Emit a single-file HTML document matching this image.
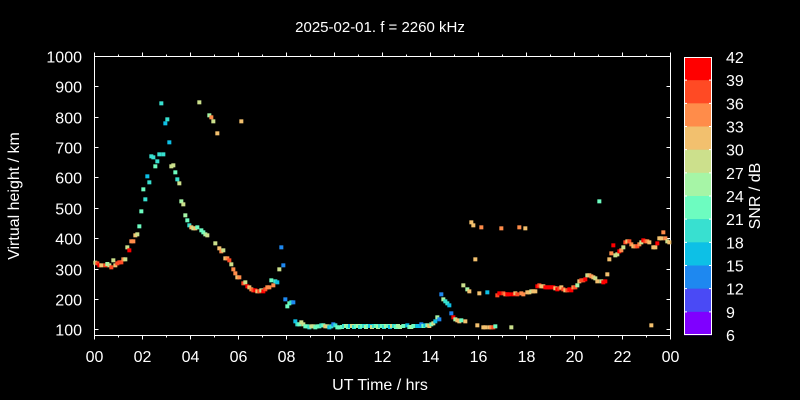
<!DOCTYPE html>
<html><head><meta charset="utf-8"><style>
html,body{margin:0;padding:0;background:#000;}
svg{display:block;}
text{font-family:"Liberation Sans",sans-serif;fill:#fff;}
</style></head><body>
<svg id="s" width="800" height="400" xmlns="http://www.w3.org/2000/svg">
<rect width="800" height="400" fill="#000"/>
<text x="380" y="32" font-size="15" text-anchor="middle">2025-02-01. f = 2260 kHz</text>
<text x="380" y="390" font-size="16" text-anchor="middle">UT Time / hrs</text>
<text transform="translate(19,196) rotate(-90)" font-size="16" text-anchor="middle">Virtual height / km</text>
<text transform="translate(760,196) rotate(-90)" font-size="16" text-anchor="middle">SNR / dB</text>
<g id="ax" stroke="#fff" stroke-width="1" fill="none"></g>
<g id="lab" font-size="16"></g>
<g id="pts"></g>
<g id="cb"></g>
</svg>
<script>
const NS="http://www.w3.org/2000/svg";
function el(p,t,a,txt){const e=document.createElementNS(NS,t);for(const k in a)e.setAttribute(k,a[k]);if(txt!==undefined)e.textContent=txt;document.getElementById(p).appendChild(e);return e;}
const L=94.5,R=670.5,T=56.5,B=335.5;
el("ax","path",{d:`M${L},${T}H${R}V${B}H${L}Z`});
let d="";
for(let h=0;h<=24;h++){const x=L+h*24;const len=h%2?2:4;d+=`M${x},${B}v${len}M${x},${T}v${-len}`;
 if(h%2==0){el("lab","text",{x:x,y:362,"text-anchor":"middle"},String(h%24).padStart(2,"0"));}}
for(let v=100;v<=1000;v+=100){const y=Math.round(56+(1000-v)*0.3037)+0.5;d+=`M${L},${y}h4M${R},${y}h-4`;
 el("lab","text",{x:82,y:y+6,"text-anchor":"end"},String(v));}
el("ax","path",{d:d});
// colorbar
const cols=["#ff0000","#ff4a24","#ff8c4a","#f2c06e","#cce08c","#a6f5a6","#6dfcc0","#38e0d0","#0dc0e6","#1e88f0","#4a4af5","#7f00ff"];
const cT=57,cB=335,ch=(cB-cT)/12;
cols.forEach((c,i)=>el("cb","rect",{x:684,y:cT+i*ch,width:28,height:ch+0.3,fill:c}));
el("cb","rect",{x:684.5,y:cT+0.5,width:27,height:cB-cT-1,fill:"none",stroke:"#fff"});
let cd="";
for(let i=0;i<=12;i++){const y=cT+i*ch;if(i>0&&i<12)cd+=`M684,${y}h3M712,${y}h-3`;
 el("cb","text",{x:726,y:y+6,"font-size":"16"},String(42-3*i));}
el("cb","path",{d:cd,stroke:"#fff",fill:"none"});
const C={r:"#ff0000",o:"#ff4a24",a:"#ff8c4a",A:"#f2c06e",y:"#cce08c",g:"#a6f5a6",t:"#6dfcc0",T:"#38e0d0",c:"#0dc0e6",b:"#1e88f0"};
function P(x,y,c){el("pts","rect",{x:x-2,y:y-2,width:4,height:4,fill:C[c]});}
const z1=[[46,518,"y"],[52,520,"o"],[58,526,"r"],[64,526,"A"],[76,526,"o"],[82,522,"g"],[88,526,"y"],[94,532,"o"],[100,511,"y"],[106,526,"A"],[112,520,"o"],[118,517,"o"],[124,517,"o"],[130,508,"a"],[136,508,"y"],[142,472,"y"],[148,481,"r"],[154,454,"a"],[160,454,"a"],[166,436,"A"],[172,433,"y"],[178,409,"t"],[184,364,"t"],[190,298,"t"],[196,328,"T"],[202,259,"c"],[208,277,"T"],[214,199,"T"],[220,202,"T"],[226,229,"t"],[232,214,"T"],[238,193,"T"],[244,40,"T"],[250,193,"T"],[256,100,"c"],[262,88,"T"],[268,157,"c"],[274,229,"y"],[280,226,"y"],[286,247,"t"],[292,268,"T"],[298,280,"y"],[304,334,"g"],[310,343,"y"],[316,376,"g"],[322,391,"t"],[328,406,"T"],[334,412,"A"],[340,415,"y"],[346,415,"A"],[352,412,"t"],[358,37,"y"],[364,421,"t"],[370,427,"t"],[376,433,"g"],[382,436,"y"],[388,76,"g"],[394,82,"a"],[400,94,"y"],[406,460,"y"],[412,130,"A"],[418,475,"A"],[424,484,"a"],[430,481,"y"],[436,505,"A"],[442,505,"a"],[448,511,"o"],[454,523,"y"],[460,538,"a"],[466,550,"a"],[472,562,"A"],[478,562,"a"],[484,94,"A"],[490,580,"o"],[496,577,"y"],[502,589,"r"],[508,592,"A"],[514,598,"a"],[520,601,"o"],[526,601,"r"],[532,604,"A"],[538,604,"o"],[544,601,"y"],[550,604,"r"],[556,598,"o"],[562,592,"a"],[568,592,"a"],[574,571,"t"],[580,586,"a"],[586,574,"T"],[592,577,"c"],[598,538,"y"],[604,472,"b"],[610,526,"b"],[616,628,"b"],[622,649,"t"],[628,640,"t"],[634,637,"T"],[640,637,"b"],[646,694,"c"],[652,703,"T"],[658,703,"t"],[664,697,"y"],[670,703,"y"],[676,709,"t"],[682,709,"t"],[688,712,"T"],[694,709,"y"],[700,709,"y"],[706,712,"t"],[712,709,"t"],[718,709,"t"],[724,706,"T"],[730,706,"t"],[736,709,"A"],[742,709,"y"],[748,712,"c"],[754,709,"T"],[760,703,"b"],[766,706,"T"],[772,712,"t"],[778,712,"t"]];
z1.forEach(p=>P(80+p[0]/3,90+p[1]/3,p[2]));
const fc=["t","T","g","t","c","y","T","t","g","T"];
for(let x=342,i=0;x<400;x+=2,i++)P(x,326+(i%3==0?1:0),fc[i%fc.length]);
const z2=[[0,441,"g"],[10,438,"t"],[22,436,"c"],[28,441,"t"],[34,441,"g"],[40,438,"t"],[52,438,"c"],[58,438,"c"],[64,433,"b"],[70,438,"t"],[76,436,"c"],[82,436,"g"],[88,438,"A"],[94,433,"t"],[100,430,"y"],[106,424,"c"],[112,412,"g"],[118,418,"b"],[124,343,"b"],[130,358,"g"],[136,364,"T"],[142,370,"T"],[148,376,"c"],[154,400,"b"],[160,412,"r"],[166,418,"g"],[172,421,"A"],[178,424,"A"],[184,421,"t"],[190,316,"y"],[196,424,"A"],[202,328,"g"],[208,334,"A"],[214,127,"A"],[220,136,"A"],[226,238,"A"],[232,436,"A"],[238,340,"A"],[244,142,"a"],[250,442,"A"],[256,442,"A"],[262,337,"c"],[268,442,"A"],[274,442,"a"],[280,442,"o"],[286,439,"t"],[292,346,"o"],[298,340,"r"],[304,145,"a"],[310,340,"o"],[316,343,"a"],[322,343,"r"],[328,343,"r"],[334,442,"y"],[340,343,"r"],[346,340,"A"],[352,343,"o"],[358,142,"a"],[364,340,"a"],[370,343,"a"],[376,145,"A"],[382,337,"A"],[388,337,"A"],[394,334,"y"],[400,334,"A"],[406,334,"A"],[412,319,"r"],[418,316,"o"],[424,319,"A"],[430,319,"A"],[436,322,"r"],[442,322,"r"],[448,322,"r"],[454,322,"r"],[460,322,"r"],[466,325,"A"],[472,328,"r"],[478,325,"o"],[484,322,"A"],[490,328,"o"],[496,331,"A"],[502,331,"o"],[508,328,"r"],[514,331,"r"],[520,322,"a"],[526,322,"o"],[532,316,"g"],[538,304,"A"],[544,301,"o"],[550,301,"o"],[556,298,"r"],[562,286,"y"],[568,286,"A"],[574,289,"a"],[580,292,"A"],[586,295,"y"],[592,304,"A"],[598,64,"t"],[604,304,"y"],[610,307,"r"],[616,304,"r"],[622,283,"A"],[628,238,"A"],[634,220,"a"],[640,196,"r"],[646,226,"y"],[652,223,"y"],[658,214,"r"],[664,211,"a"],[670,202,"y"],[676,187,"o"],[682,184,"A"],[688,184,"o"],[694,193,"a"],[700,199,"A"],[706,199,"a"],[712,199,"o"],[718,193,"a"],[724,187,"y"],[730,181,"r"],[736,184,"o"],[742,184,"a"],[748,187,"A"],[754,436,"A"],[760,202,"A"],[766,202,"A"],[772,190,"r"],[778,175,"A"],[784,175,"A"],[790,157,"a"],[796,175,"a"],[802,184,"y"],[808,187,"A"]];
z2.forEach(p=>P(400+p[0]/3,180+p[1]/3,p[2]));
</script>
</body></html>
